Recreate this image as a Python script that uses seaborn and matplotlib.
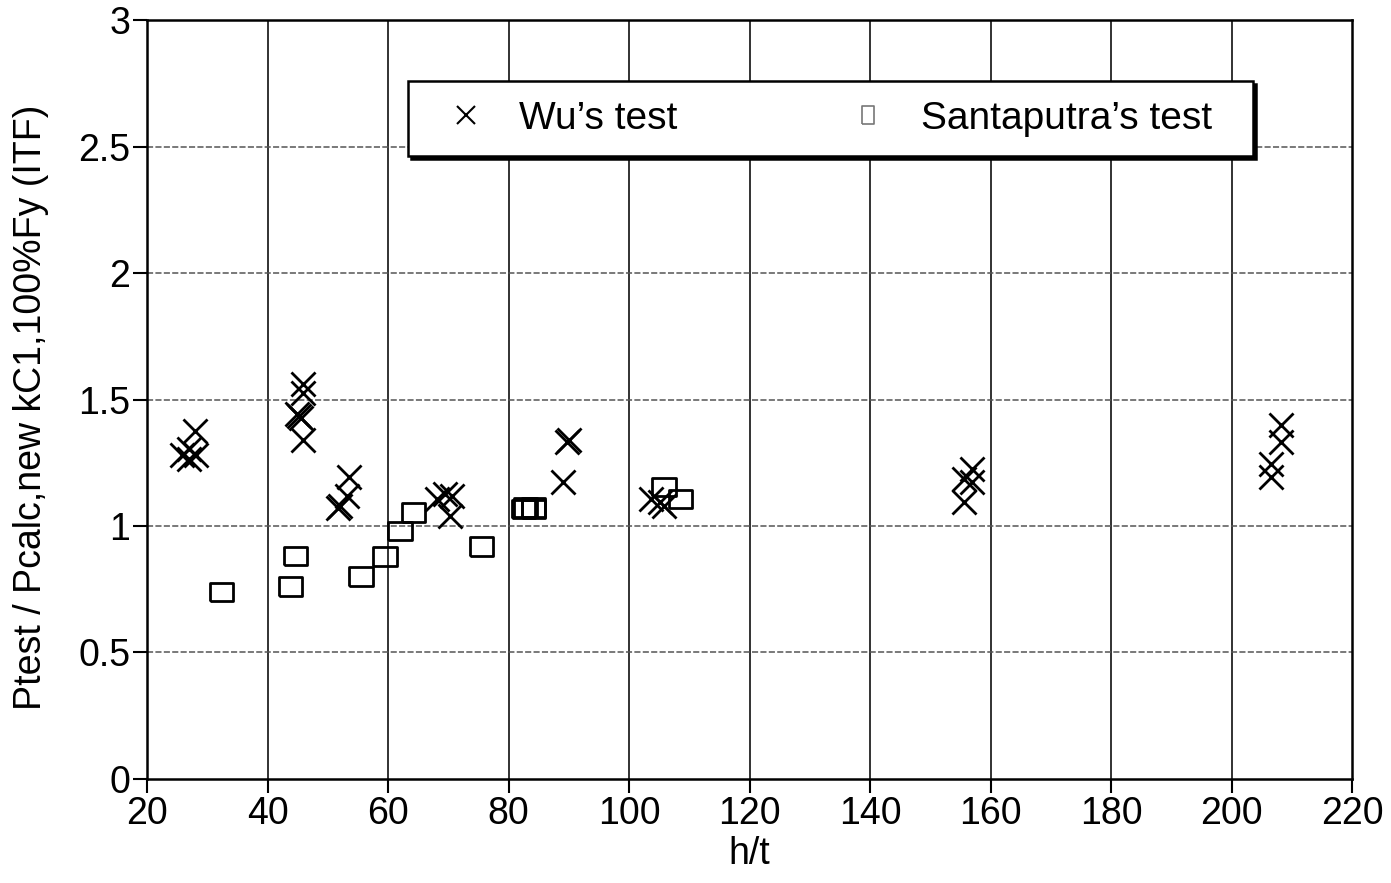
import numpy as np
import pandas as pd
import matplotlib
matplotlib.use("Agg")
import matplotlib.pyplot as plt
import seaborn as sns
from matplotlib.lines import Line2D

# Wu's test data (h/t, Ptest/Pcalc)
wu_x = [28.0, 25.8, 27.0, 28.2, 27.0,
        45.9, 45.9, 45.3, 44.9, 45.6, 45.9,
        53.6, 53.2, 52.1, 51.7,
        69.5, 70.6, 68.1, 70.3,
        89.0, 90.0, 89.7,
        103.6, 105.8, 105.2,
        157.0, 155.6, 157.0, 155.6,
        208.2, 208.2, 206.5, 206.5]
wu_y = [1.374, 1.279, 1.306, 1.279, 1.266,
        1.563, 1.524, 1.435, 1.444, 1.425, 1.339,
        1.193, 1.120, 1.081, 1.071,
        1.127, 1.120, 1.107, 1.041,
        1.173, 1.338, 1.332,
        1.107, 1.081, 1.095,
        1.226, 1.187, 1.173, 1.094,
        1.398, 1.332, 1.246, 1.193]

# Santaputra's test data
sa_x = [32.3, 43.8, 44.6, 55.5, 59.5, 62.0, 64.2, 75.5,
        82.5, 84.2, 82.8, 84.2, 105.8, 108.5]
sa_y = [0.739, 0.761, 0.882, 0.800, 0.880, 0.981, 1.054, 0.919,
        1.067, 1.067, 1.074, 1.074, 1.154, 1.107]

x_ticks = [20, 40, 60, 80, 100, 120, 140, 160, 180, 200, 220]
y_ticks = [0, 0.5, 1, 1.5, 2, 2.5, 3]
y_tick_labels = ["0", "0.5", "1", "1.5", "2", "2.5", "3"]

sns.set_style("white")
plt.rcParams['font.family'] = ['Liberation Sans', 'DejaVu Sans']
plt.rcParams['text.color'] = 'black'

FS = 27

fig = plt.figure(figsize=(13.91, 8.83), dpi=100)
ax = fig.add_axes([0.1057, 0.1178, 0.972 - 0.1057, 0.9773 - 0.1178])

wu_df = pd.DataFrame({"h/t": wu_x, "ratio": wu_y})
sa_df = pd.DataFrame({"h/t": sa_x, "ratio": sa_y})

rect = [(-1, -0.8), (1, -0.8), (1, 0.8), (-1, 0.8), (-1, -0.8)]

sns.scatterplot(data=wu_df, x="h/t", y="ratio", marker="x", s=300,
                color="black", linewidth=2.0, ax=ax, zorder=3)
sns.scatterplot(data=sa_df, x="h/t", y="ratio", marker=rect, s=280,
                facecolors="none", edgecolor="black", linewidth=2.0,
                ax=ax, zorder=3)

ax.set_xlim(20, 220)
ax.set_ylim(0, 3)
ax.set_xticks(x_ticks)
ax.set_xticklabels([str(v) for v in x_ticks])
ax.set_yticks(y_ticks)
ax.set_yticklabels(y_tick_labels)

for xv in x_ticks[1:-1]:
    ax.axvline(xv, color="#222222", lw=1.3, zorder=1)
for yv in y_ticks[1:-1]:
    ax.axhline(yv, color="#555555", lw=1.1, ls=(0, (4, 1.5)), zorder=1)

for sp in ax.spines.values():
    sp.set_color("black")
    sp.set_linewidth(1.8)

ax.tick_params(axis="both", direction="out", length=10, width=1.5,
               labelsize=FS, colors="black", bottom=True, left=True, pad=2)

ax.set_xlabel("h/t", fontsize=FS, color="black")
ax.set_ylabel("Ptest / Pcalc,new kC1,100%Fy (ITF)", fontsize=FS, color="black")
ax.xaxis.set_label_coords(0.5, -0.075)
ax.yaxis.set_label_coords(-0.081, 0.49)

handles = [
    Line2D([], [], marker="x", ls="none", color="black", markersize=13, markeredgewidth=1.5),
    Line2D([], [], marker=[(-0.7, -1), (0.7, -1), (0.7, 1), (-0.7, 1), (-0.7, -1)],
           ls="none", markerfacecolor="none",
           markeredgecolor="#777777", markersize=13, markeredgewidth=1.2),
]
leg = ax.legend(handles, ["Wu\u2019s test", "Santaputra\u2019s test  "], ncol=2,
                loc="upper left", bbox_to_anchor=(0.2166, 0.9196),
                borderaxespad=0, fontsize=28, frameon=True, fancybox=False,
                handlelength=2.0, handletextpad=0.36, borderpad=0.5,
                columnspacing=3.9,
                shadow={'color': 'black', 'alpha': 1})
leg.get_frame().set_edgecolor("black")
leg.get_frame().set_linewidth(1.8)
leg.get_frame().set_facecolor("white")
leg.get_frame().set_alpha(1)
leg.set_zorder(5)

fig.savefig("out.png", dpi=100, facecolor="white")
